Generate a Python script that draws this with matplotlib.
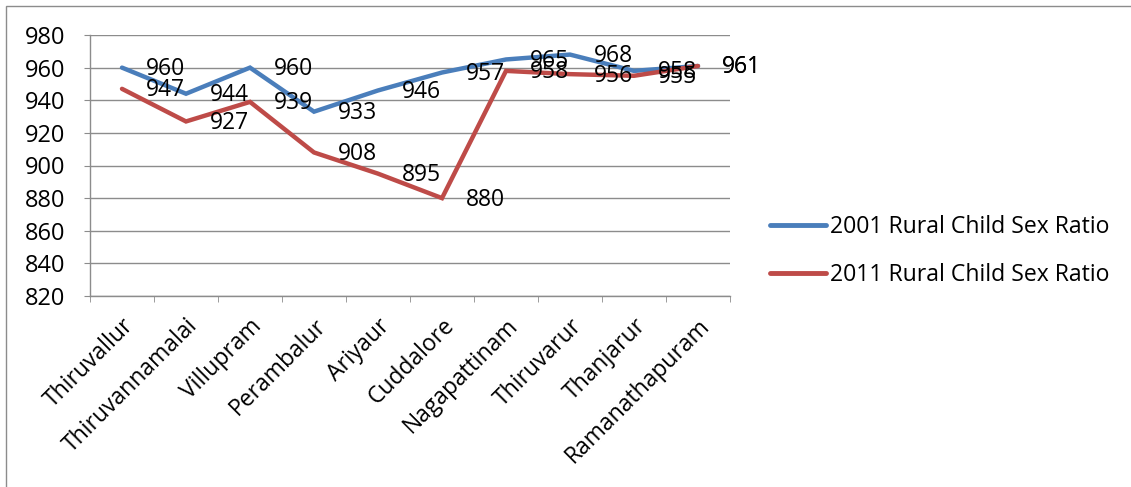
import matplotlib
matplotlib.use("Agg")
import matplotlib.pyplot as plt
from matplotlib.patches import Rectangle
from matplotlib.ticker import FixedLocator

districts = ["Thiruvallur", "Thiruvannamalai", "Villupram", "Perambalur", "Ariyaur",
             "Cuddalore", "Nagapattinam", "Thiruvarur", "Thanjarur", "Ramanathapuram"]
ratio_2001 = [960, 944, 960, 933, 946, 957, 965, 968, 958, 961]
ratio_2011 = [947, 927, 939, 908, 895, 880, 958, 956, 955, 961]
series_names = ["2001 Rural Child Sex Ratio", "2011 Rural Child Sex Ratio"]
y_ticks = [820, 840, 860, 880, 900, 920, 940, 960, 980]

plt.rcParams['font.family'] = ['Open Sans', 'DejaVu Sans']

W, H = 1131, 487
fig = plt.figure(figsize=(W / 100, H / 100), dpi=100)
ax = fig.add_axes([90 / W, (H - 296) / H, (730 - 90) / W, (296 - 35) / H])

# figure border (top and left visible)
fig.patches.append(Rectangle((6 / W, -0.01), 1.2, (H - 6) / H + 0.01, transform=fig.transFigure,
                             fill=False, edgecolor="#8c8c8c", linewidth=1.0))

x = list(range(len(districts)))
colors = ["#4A7EBB", "#BE4B48"]
for vals, name, c in zip([ratio_2001, ratio_2011], series_names, colors):
    ax.plot(x, vals, color=c, linewidth=3.2, label=name, solid_capstyle="round",
            solid_joinstyle="miter", zorder=3)
    for xi, v in zip(x, vals):
        ax.annotate(str(v), (xi, v), xytext=(17, -1), textcoords="offset points",
                    ha="left", va="center", fontsize=16.5, color="black", zorder=4)

ax.set_xlim(-0.5, len(districts) - 0.5)
ax.set_ylim(820, 980)
ax.set_yticks(y_ticks)
ax.set_yticklabels([str(t) for t in y_ticks])
ax.grid(axis="y", color="#8c8c8c", linewidth=1.0)
ax.set_axisbelow(True)

ax.set_xticks(x)
ax.set_xticklabels(districts, rotation=45, ha="right", rotation_mode="anchor", fontsize=16.5)
ax.xaxis.set_minor_locator(FixedLocator([i - 0.5 for i in range(len(districts) + 1)]))
ax.tick_params(axis="x", which="major", length=0, pad=13)
ax.tick_params(axis="x", which="minor", length=4, color="#8c8c8c", direction="out")
ax.tick_params(axis="y", length=4, color="#8c8c8c", labelsize=17, pad=14)

for s in ["top", "right"]:
    ax.spines[s].set_visible(False)
for s in ["left", "bottom"]:
    ax.spines[s].set_color("#8c8c8c")
    ax.spines[s].set_linewidth(1.0)

leg = ax.legend(loc="center left", bbox_to_anchor=(770 / W, (H - 251) / H),
                bbox_transform=fig.transFigure, frameon=False, fontsize=16.6,
                handlelength=2.45, handletextpad=0.17, labelspacing=1.05, borderpad=0,
                borderaxespad=0)
for line in leg.get_lines():
    line.set_linewidth(3.5)

fig.savefig("out.png", dpi=100)
